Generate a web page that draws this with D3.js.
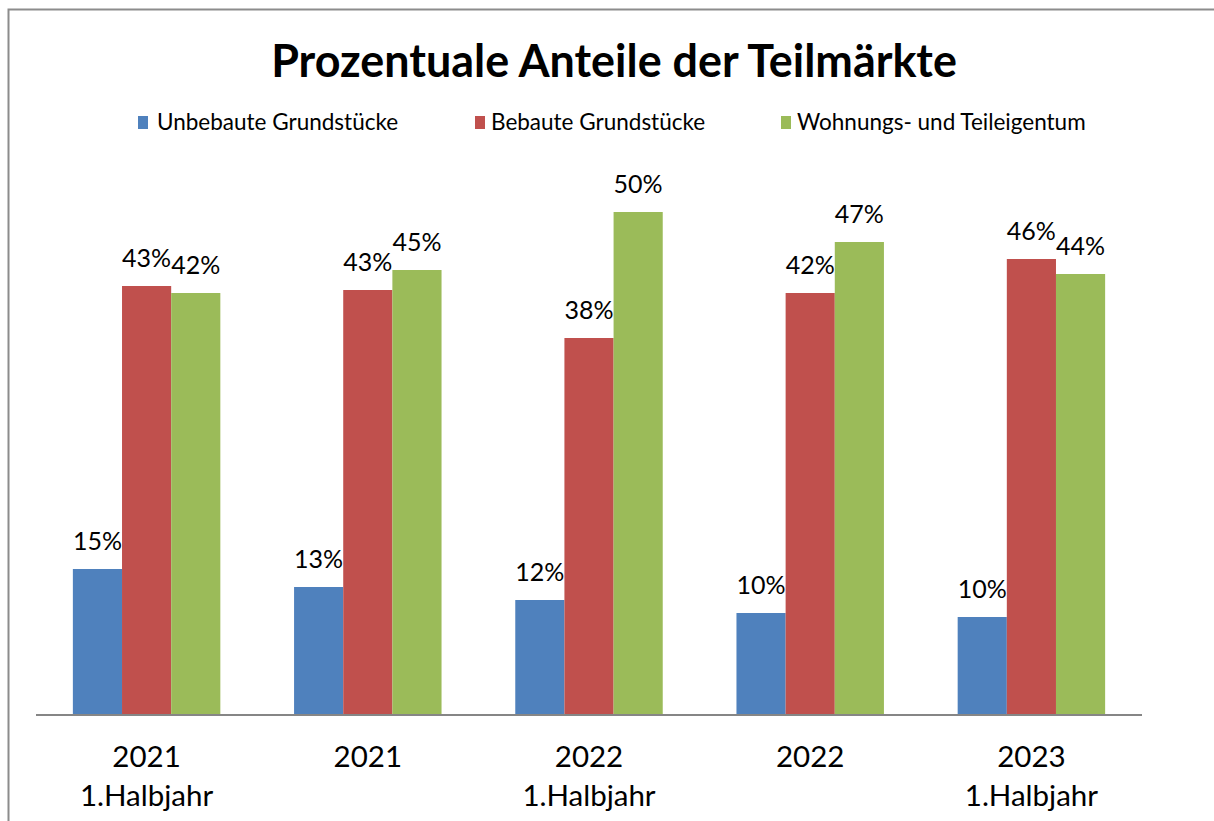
<!DOCTYPE html>
<html>
<head>
<meta charset="utf-8">
<script src="https://cdn.jsdelivr.net/npm/d3@7"></script>
<style>
  body { margin: 0; background: #fff; }
  svg text { font-family: Lato, "Open Sans", sans-serif; fill: #000; }
</style>
</head>
<body>
<div class="visuals"></div>
<script>
// chart data (percent)
const categories = ["2021\n1.Halbjahr", "2021", "2022\n1.Halbjahr", "2022", "2023\n1.Halbjahr"];
const seriesNames = ["Unbebaute Grundstücke", "Bebaute Grundstücke", "Wohnungs- und Teileigentum"];
const unbebaut = [14.7, 12.9, 11.6, 10.3, 9.9];
const bebaut = [43.0, 42.6, 37.8, 42.3, 45.7];
const wohnung = [42.3, 44.6, 50.4, 47.4, 44.2];
const colors = ["#4F81BD", "#C0504D", "#9BBB59"];

const width = 1214, height = 821;
const seriesValues = [unbebaut, bebaut, wohnung];

const svg = d3.select(".visuals")
  .append("svg")
  .attr("width", width)
  .attr("height", height);

// outer frame (runs off right and bottom edge like the original)
svg.append("rect")
  .attr("x", 8.5).attr("y", 9.5)
  .attr("width", 1230).attr("height", 840)
  .attr("fill", "none")
  .attr("stroke", "#8c8c8c")
  .attr("stroke-width", 2);

// fit a text element to a given width by scaling its font size
function fitWidth(sel, size, target) {
  sel.style("font-size", size + "px");
  let w = sel.node().getComputedTextLength();
  sel.style("font-size", (size * target / w) + "px");
}

// title
const title = svg.append("text")
  .attr("x", 614).attr("y", 77)
  .attr("text-anchor", "middle")
  .style("font-weight", "bold")
  .text("Prozentuale Anteile der Teilmärkte");
fitWidth(title, 44, 686);

// legend
const legendBox = [138, 475, 781];
const legendText = [157, 491, 797];
const legend = svg.selectAll(".legend")
  .data(seriesNames)
  .enter().append("g")
  .attr("class", "legend");
legend.append("rect")
  .attr("x", (d, i) => legendBox[i])
  .attr("y", 116)
  .attr("width", 10).attr("height", 13)
  .attr("fill", (d, i) => colors[i]);
legend.append("text")
  .attr("x", (d, i) => legendText[i])
  .attr("y", 130)
  .style("font-size", "22.5px")
  .text(d => d);

// scales
const x0 = d3.scaleBand().domain(categories).range([36, 1142]);
const x1 = d3.scaleBand().domain(d3.range(3)).range([0, x0.bandwidth()]).paddingOuter(0.75);
const y = d3.scaleLinear().domain([0, 50]).range([716, 216]);

const groups = svg.selectAll(".group")
  .data(categories)
  .enter().append("g")
  .attr("class", "group")
  .attr("transform", d => `translate(${x0(d)},0)`);

groups.selectAll("rect")
  .data((d, ci) => seriesValues.map((s, si) => ({ si: si, v: s[ci] })))
  .enter().append("rect")
  .attr("class", "bar")
  .attr("x", d => x1(d.si))
  .attr("width", x1.bandwidth())
  .attr("y", d => y(d.v))
  .attr("height", d => y(0) - y(d.v))
  .attr("fill", d => colors[d.si]);

groups.selectAll(".label")
  .data((d, ci) => seriesValues.map((s, si) => ({ si: si, v: s[ci] })))
  .enter().append("text")
  .attr("class", "label")
  .attr("x", d => x1(d.si) + x1.bandwidth() / 2)
  .attr("y", d => y(d.v) - 19)
  .attr("text-anchor", "middle")
  .style("font-size", "25px")
  .text(d => Math.round(d.v) + "%");

// x axis line
svg.append("line")
  .attr("x1", 36).attr("x2", 1142)
  .attr("y1", 715).attr("y2", 715)
  .attr("stroke", "#868686")
  .attr("stroke-width", 2);

// category labels (two lines)
const catText = svg.selectAll(".cat")
  .data(categories)
  .enter().append("text")
  .attr("class", "cat")
  .attr("text-anchor", "middle")
  .style("font-size", "29.5px");
catText.selectAll("tspan")
  .data(d => d.split("\n").map(t => ({ t: t, c: d })))
  .enter().append("tspan")
  .attr("x", d => x0(d.c) + x0.bandwidth() / 2)
  .attr("y", (d, i) => 767 + i * 39)
  .text(d => d.t);
</script>
</body>
</html>
